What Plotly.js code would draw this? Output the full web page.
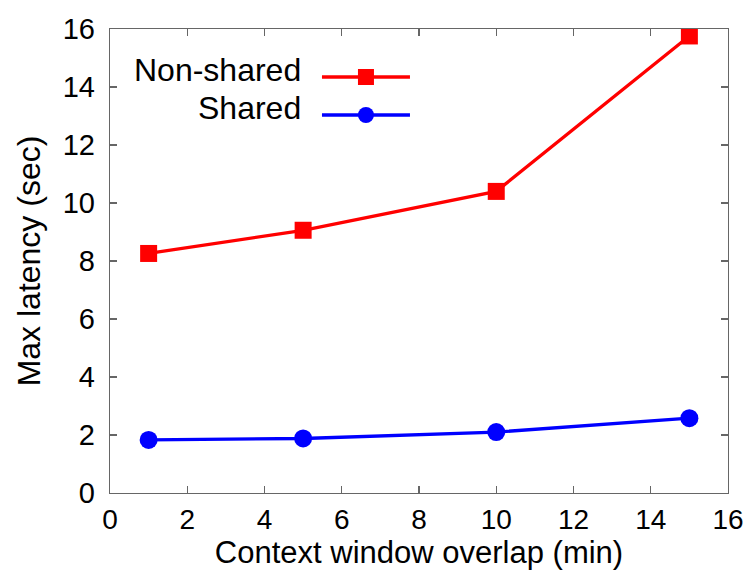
<!DOCTYPE html>
<html>
<head>
<meta charset="utf-8">
<script src="https://cdn.plot.ly/plotly-3.0.1.min.js"></script>
<style>html,body{margin:0;padding:0;background:#fff;}</style>
</head>
<body>
<div id="chart" style="width:751px;height:572px;"></div>
<script>
const overlap = [1, 5, 10, 15];
const nonShared = [8.26, 9.06, 10.40, 15.76];
const shared = [1.83, 1.88, 2.10, 2.58];
const seriesNames = ["Non-shared", "Shared"];
const xTicks = [0, 2, 4, 6, 8, 10, 12, 14, 16];
const yTicks = [0, 2, 4, 6, 8, 10, 12, 14, 16];

const FONT = "Liberation Sans, Arial, sans-serif";
const traces = [
  {x: overlap, y: nonShared, mode: "lines+markers", name: " ", legend: "legend",
   line: {color: "#ff0000", width: 3.3}, marker: {symbol: "square", size: 17, color: "#ff0000"}},
  {x: overlap, y: shared, mode: "lines+markers", name: " ", legend: "legend2",
   line: {color: "#0000ff", width: 3.3}, marker: {symbol: "circle", size: 18, color: "#0000ff"}}
];
const axisCommon = {
  showgrid: false, zeroline: false, showline: true, mirror: "ticks",
  linecolor: "#666", linewidth: 1.3, ticks: "inside", ticklen: 7, tickcolor: "#666", tickwidth: 1.3,
  tickfont: {family: FONT, size: 29, color: "#000"}
};
const layout = {
  width: 751, height: 572,
  margin: {l: 110, r: 23, t: 29, b: 79},
  paper_bgcolor: "#fff", plot_bgcolor: "#fff",
  font: {family: FONT, color: "#000"},
  xaxis: Object.assign({}, axisCommon, {range: [0, 16], tickvals: xTicks, ticktext: xTicks.map(String),
    ticklabelstandoff: 1, tickfont: {family: FONT, size: 28, color: "#000"},
    title: {text: "Context window overlap (min)", font: {family: FONT, size: 31}, standoff: 3}}),
  yaxis: Object.assign({}, axisCommon, {range: [0, 16], tickvals: yTicks, ticktext: yTicks.map(String),
    ticklabelstandoff: 8,
    title: {text: "Max latency (sec)", font: {family: FONT, size: 32}, standoff: 12}}),
  showlegend: true,
  legend: {x: 0.3349, y: 0.8966, xanchor: "left", yanchor: "middle", bgcolor: "rgba(0,0,0,0)", font: {size: 20}, itemwidth: 88},
  legend2: {x: 0.3349, y: 0.8147, xanchor: "left", yanchor: "middle", bgcolor: "rgba(0,0,0,0)", font: {size: 20}, itemwidth: 88},
  annotations: [
    {text: seriesNames[0], xref: "paper", yref: "paper", x: 0.3116, y: 0.9116, xanchor: "right", yanchor: "middle",
     showarrow: false, font: {family: FONT, size: 32, color: "#000"}},
    {text: seriesNames[1], xref: "paper", yref: "paper", x: 0.3116, y: 0.8297, xanchor: "right", yanchor: "middle",
     showarrow: false, font: {family: FONT, size: 32, color: "#000"}}
  ]
};
Plotly.newPlot("chart", traces, layout, {displayModeBar: false, staticPlot: true});
</script>
</body>
</html>
